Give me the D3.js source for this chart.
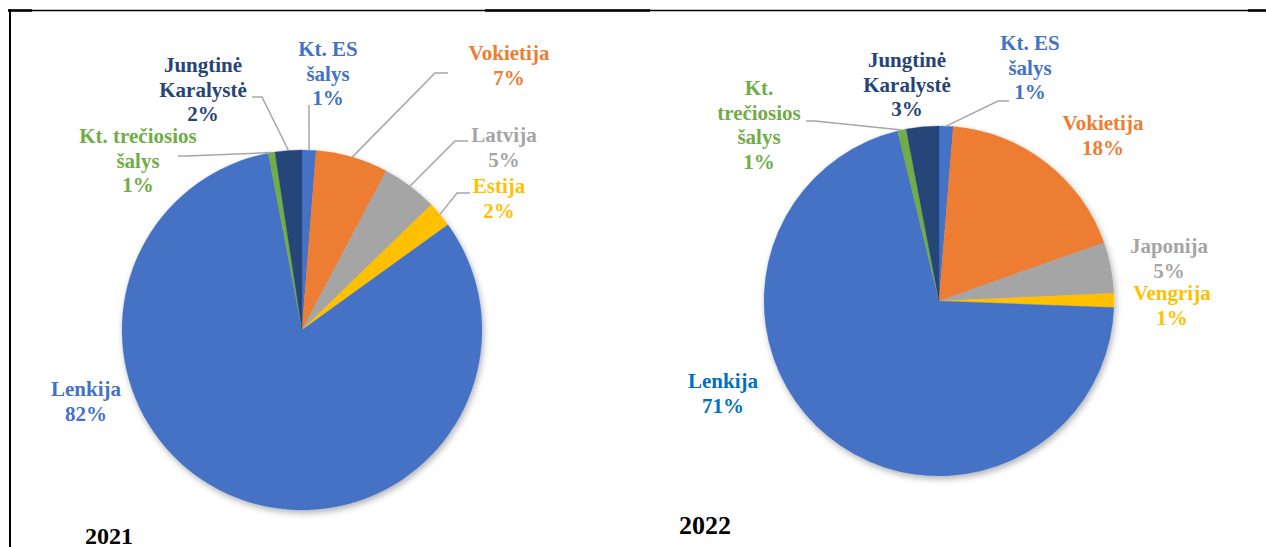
<!DOCTYPE html>
<html>
<head>
<meta charset="utf-8">
<script src="https://cdn.jsdelivr.net/npm/d3@7"></script>
</head>
<body style="margin:0">
<script>
const w = 1266;
const h = 547;

// data (shares in %)
const categories2021 = ['Kt. ES|šalys', 'Vokietija', 'Latvija', 'Estija', 'Lenkija', 'Kt. trečiosios|šalys', 'Jungtinė|Karalystė'];
const values2021 = [1.25, 6.5, 5.0, 2.3, 81.95, 0.6, 2.4];

const categories2022 = ['Kt. ES|šalys', 'Vokietija', 'Japonija', 'Vengrija', 'Lenkija', 'Kt.|trečiosios|šalys', 'Jungtinė|Karalystė'];
const values2022 = [1.3, 18.3, 4.7, 1.3, 70.6, 0.8, 3.0];

const years = ['2021', '2022'];

const sliceColors = ['#4472C4', '#ED7D31', '#A5A5A5', '#FFC000', '#4472C4', '#70AD47', '#264478'];
const labelColors2021 = ['#4472C4', '#ED7D31', '#A5A5A5', '#FFC000', '#4472C4', '#70AD47', '#264478'];
const labelColors2022 = ['#4472C4', '#ED7D31', '#A5A5A5', '#FFC000', '#0070C0', '#70AD47', '#264478'];

const serifFont = '"Liberation Serif"';

// layout of the two pies and of the moved labels
const charts = [
    {
        cats: categories2021, vals: values2021, labelColors: labelColors2021,
        cx: 302, cy: 330, r: 180,
        year: { x: 85, y: 544, size: 24 },
        labels: [
            { x: 328, y: 56, leader: [[309, 105]] },
            { x: 509, y: 60, leader: [[448, 73], [435, 73]] },
            { x: 504, y: 142, leader: [[468, 141], [455, 141]] },
            { x: 499, y: 193, leader: [[470, 193], [457, 193]] },
            { x: 86, y: 396 },
            { x: 138, y: 143, leader: [[178, 156], [186, 156]] },
            { x: 203, y: 72, leader: [[252, 97], [262, 97]] }
        ]
    },
    {
        cats: categories2022, vals: values2022, labelColors: labelColors2022,
        cx: 939, cy: 301, r: 175,
        year: { x: 679, y: 534, size: 26 },
        labels: [
            { x: 1030, y: 50, leader: [[1009, 101], [998, 101]] },
            { x: 1103, y: 130 },
            { x: 1169, y: 253 },
            { x: 1172, y: 300 },
            { x: 723, y: 388 },
            { x: 759, y: 95, leader: [[806, 121], [815, 121]] },
            { x: 907, y: 67 }
        ]
    }
];

const fontSize = 21;
const lineH = 24.5;

const svg = d3.select('body')
    .append('svg')
    .attr('width', w)
    .attr('height', h);

const defs = svg.append('defs');
defs.append('filter')
    .attr('id', 'shadow')
    .attr('x', '-20%').attr('y', '-20%')
    .attr('width', '140%').attr('height', '140%')
    .append('feDropShadow')
    .attr('dx', 1.5)
    .attr('dy', 3)
    .attr('stdDeviation', 3)
    .attr('flood-color', '#000')
    .attr('flood-opacity', 0.3);

// frame (table border)
svg.append('line')
    .attr('x1', 8).attr('x2', w).attr('y1', 10.5).attr('y2', 10.5)
    .attr('stroke', '#000').attr('stroke-width', 1.3);
[[8, 32], [485, 650], [1248, w]].forEach(s => {
    svg.append('line')
        .attr('x1', s[0]).attr('x2', s[1]).attr('y1', 10.5).attr('y2', 10.5)
        .attr('stroke', '#000').attr('stroke-width', 2.5);
});
svg.append('line')
    .attr('x1', 10).attr('x2', 10).attr('y1', 9).attr('y2', h)
    .attr('stroke', '#000').attr('stroke-width', 2);

const pie = d3.pie().sort(null).value(d => d);

charts.forEach((c, ci) => {
    const arcs = pie(c.vals);
    const arc = d3.arc().innerRadius(0).outerRadius(c.r);

    const g = svg.append('g')
        .attr('transform', `translate(${c.cx}, ${c.cy})`);

    g.append('g')
        .attr('filter', 'url(#shadow)')
        .selectAll('path')
        .data(arcs)
        .join('path')
        .attr('d', arc)
        .attr('fill', (d, i) => sliceColors[i])
        .attr('stroke', (d, i) => sliceColors[i])
        .attr('stroke-width', 0.3);

    // leader lines: from label stub to slice edge at its mid angle
    arcs.forEach((a, i) => {
        const lab = c.labels[i];
        if (!lab.leader) return;
        const mid = (a.startAngle + a.endAngle) / 2;
        const edge = [c.cx + c.r * Math.sin(mid), c.cy - c.r * Math.cos(mid)];
        const pts = lab.leader.concat([edge]);
        svg.append('path')
            .attr('d', d3.line()(pts))
            .attr('fill', 'none')
            .attr('stroke', '#A6A6A6')
            .attr('stroke-width', 1.5);
    });

    // labels, one text per line
    arcs.forEach((a, i) => {
        const lab = c.labels[i];
        const lines = c.cats[i].split('|').concat([Math.round(c.vals[i]) + '%']);
        lines.forEach((line, k) => {
            svg.append('text')
                .attr('x', lab.x)
                .attr('y', lab.y + k * lineH)
                .attr('text-anchor', 'middle')
                .attr('fill', c.labelColors[i])
                .style('font-family', serifFont)
                .style('font-weight', 'bold')
                .style('font-size', fontSize + 'px')
                .text(line);
        });
    });

    svg.append('text')
        .attr('x', c.year.x)
        .attr('y', c.year.y)
        .attr('fill', '#000')
        .style('font-family', serifFont)
        .style('font-weight', 'bold')
        .style('font-size', c.year.size + 'px')
        .text(years[ci]);
});
</script>
</body>
</html>
